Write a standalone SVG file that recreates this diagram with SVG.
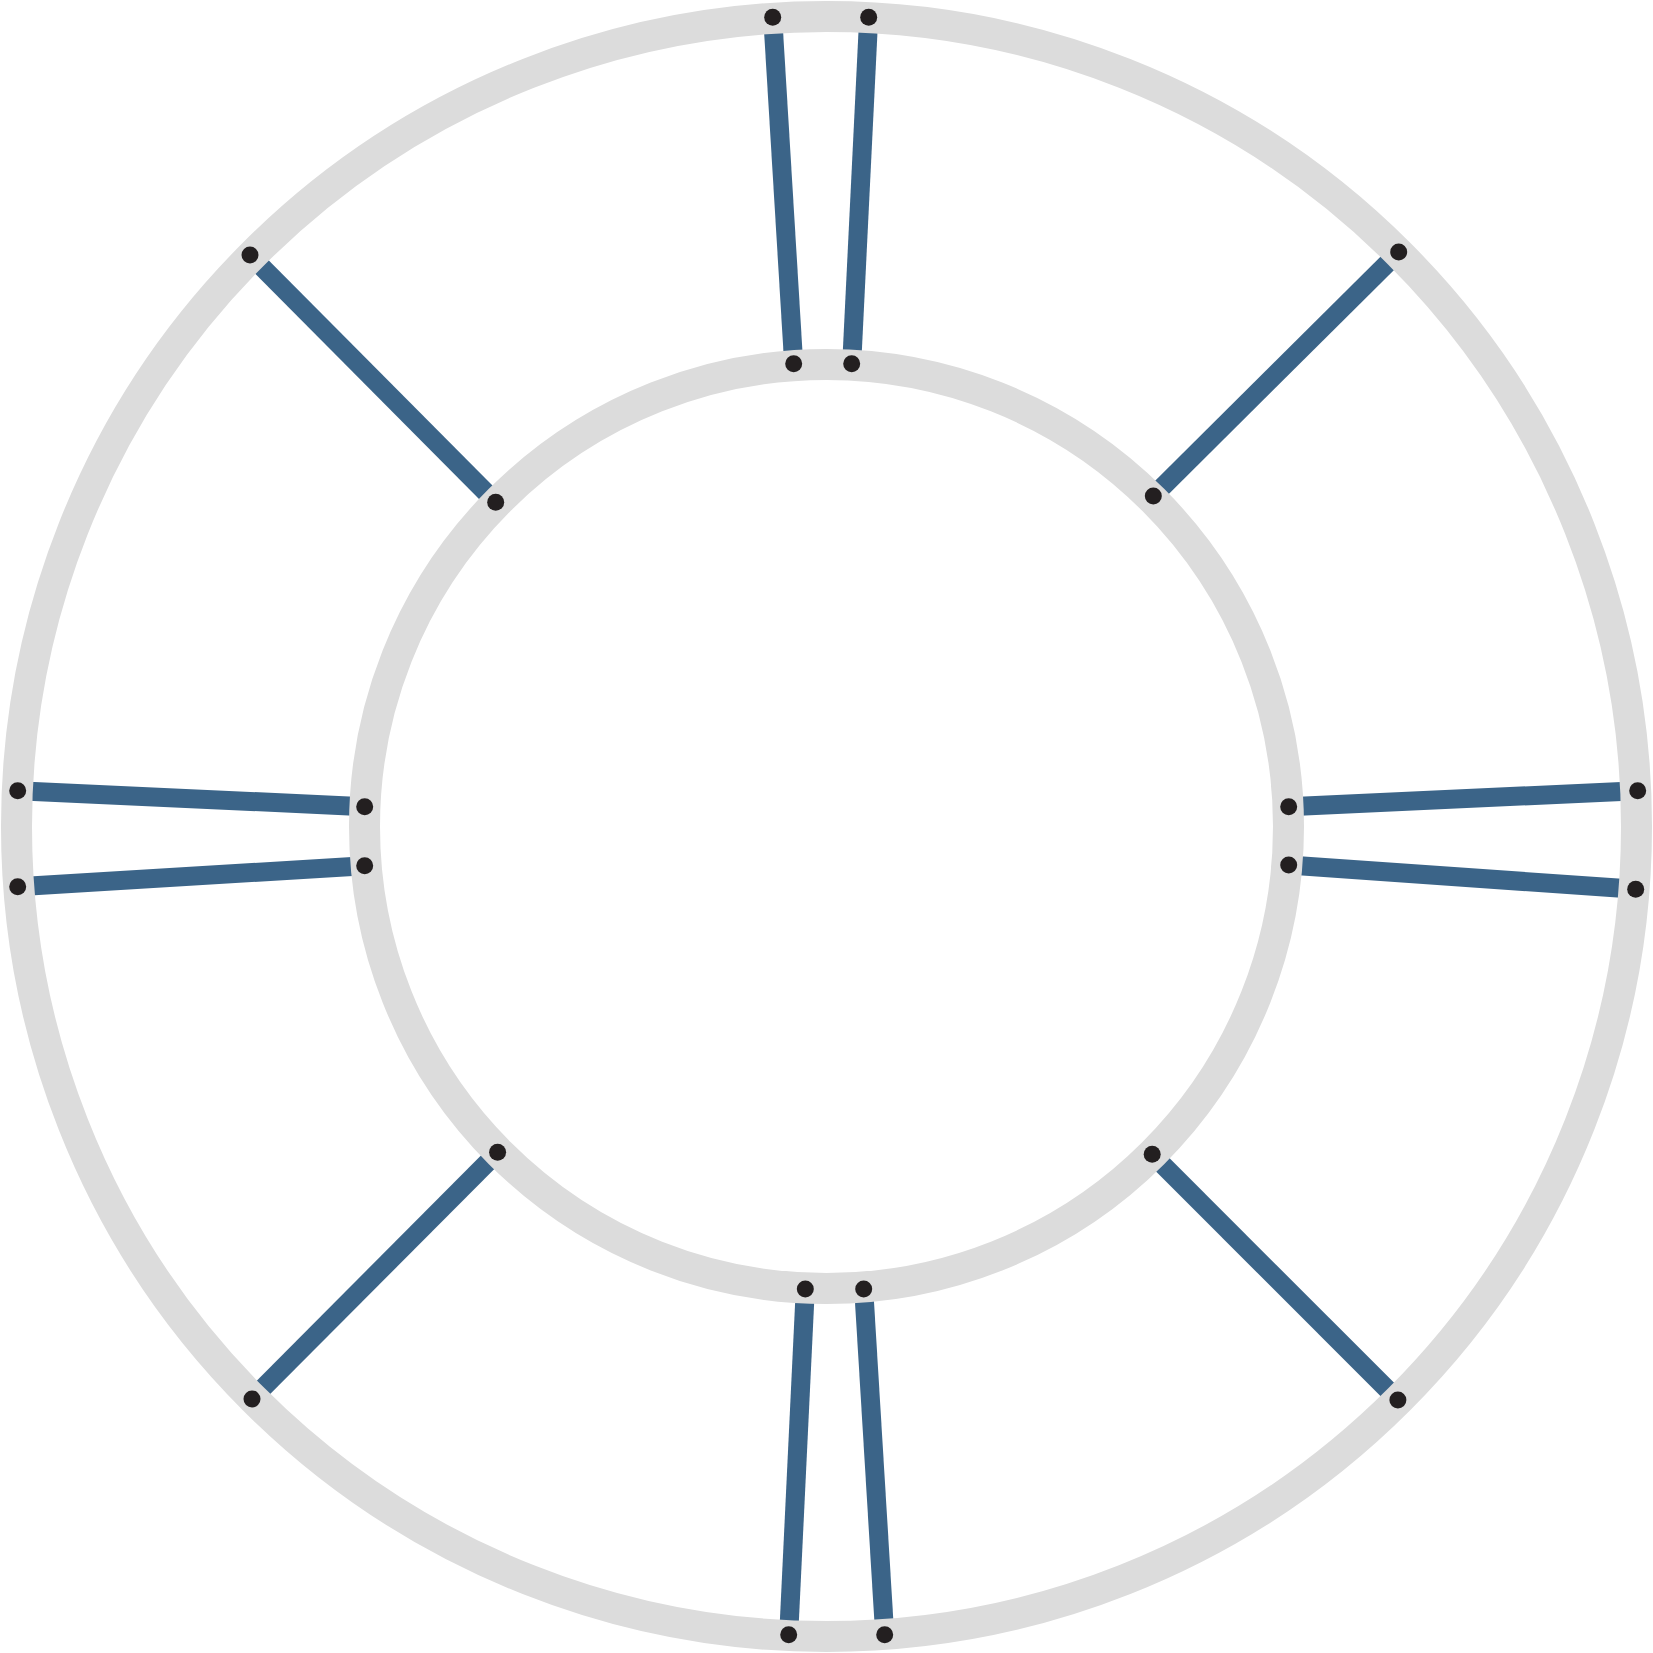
<svg xmlns="http://www.w3.org/2000/svg" width="1653" height="1653" viewBox="0 0 1653 1653">
<style>
.ring{fill:none;stroke:#dcdcdc;stroke-width:31}
.bar{stroke:#3b6488;stroke-width:19;fill:none}
.dot{fill:#231f20}
</style>
<rect width="1653" height="1653" fill="#ffffff"/>
<g id="connectors">
<line class="bar" x1="772.7" y1="17.3" x2="793.7" y2="363.7"/>
<line class="bar" x1="868.7" y1="17.3" x2="851.7" y2="363.7"/>
<line class="bar" x1="1398.7" y1="252" x2="1153.3" y2="496"/>
<line class="bar" x1="1637.7" y1="790.7" x2="1288.7" y2="806.7"/>
<line class="bar" x1="1635.7" y1="889.3" x2="1288.7" y2="865"/>
<line class="bar" x1="1397.9" y1="1400" x2="1152.2" y2="1154.3"/>
<line class="bar" x1="788.7" y1="1634.7" x2="805.3" y2="1289"/>
<line class="bar" x1="884.7" y1="1634.7" x2="863.7" y2="1289"/>
<line class="bar" x1="252" y1="1398.9" x2="497.6" y2="1152.2"/>
<line class="bar" x1="17.7" y1="790.7" x2="364.7" y2="806.7"/>
<line class="bar" x1="17.7" y1="886.7" x2="364.7" y2="865.7"/>
<line class="bar" x1="250" y1="255" x2="495.7" y2="502.3"/>
</g>
<g id="outer-ring"><circle class="ring" cx="826.5" cy="826.5" r="810"/></g>
<g id="inner-ring"><circle class="ring" cx="826.5" cy="826.5" r="462"/></g>
<g id="dots">
<circle class="dot" cx="772.7" cy="17.3" r="8.5"/>
<circle class="dot" cx="868.7" cy="17.3" r="8.5"/>
<circle class="dot" cx="793.7" cy="363.7" r="8.5"/>
<circle class="dot" cx="851.7" cy="363.7" r="8.5"/>
<circle class="dot" cx="1398.7" cy="252" r="8.5"/>
<circle class="dot" cx="1153.3" cy="496" r="8.5"/>
<circle class="dot" cx="1637.7" cy="790.7" r="8.5"/>
<circle class="dot" cx="1635.7" cy="889.3" r="8.5"/>
<circle class="dot" cx="1288.7" cy="806.7" r="8.5"/>
<circle class="dot" cx="1288.7" cy="865" r="8.5"/>
<circle class="dot" cx="1397.9" cy="1400" r="8.5"/>
<circle class="dot" cx="1152.2" cy="1154.3" r="8.5"/>
<circle class="dot" cx="788.7" cy="1634.7" r="8.5"/>
<circle class="dot" cx="884.7" cy="1634.7" r="8.5"/>
<circle class="dot" cx="805.3" cy="1289" r="8.5"/>
<circle class="dot" cx="863.7" cy="1289" r="8.5"/>
<circle class="dot" cx="252" cy="1398.9" r="8.5"/>
<circle class="dot" cx="497.6" cy="1152.2" r="8.5"/>
<circle class="dot" cx="17.7" cy="790.7" r="8.5"/>
<circle class="dot" cx="17.7" cy="886.7" r="8.5"/>
<circle class="dot" cx="364.7" cy="806.7" r="8.5"/>
<circle class="dot" cx="364.7" cy="865.7" r="8.5"/>
<circle class="dot" cx="250" cy="255" r="8.5"/>
<circle class="dot" cx="495.7" cy="502.3" r="8.5"/>
</g>
</svg>
